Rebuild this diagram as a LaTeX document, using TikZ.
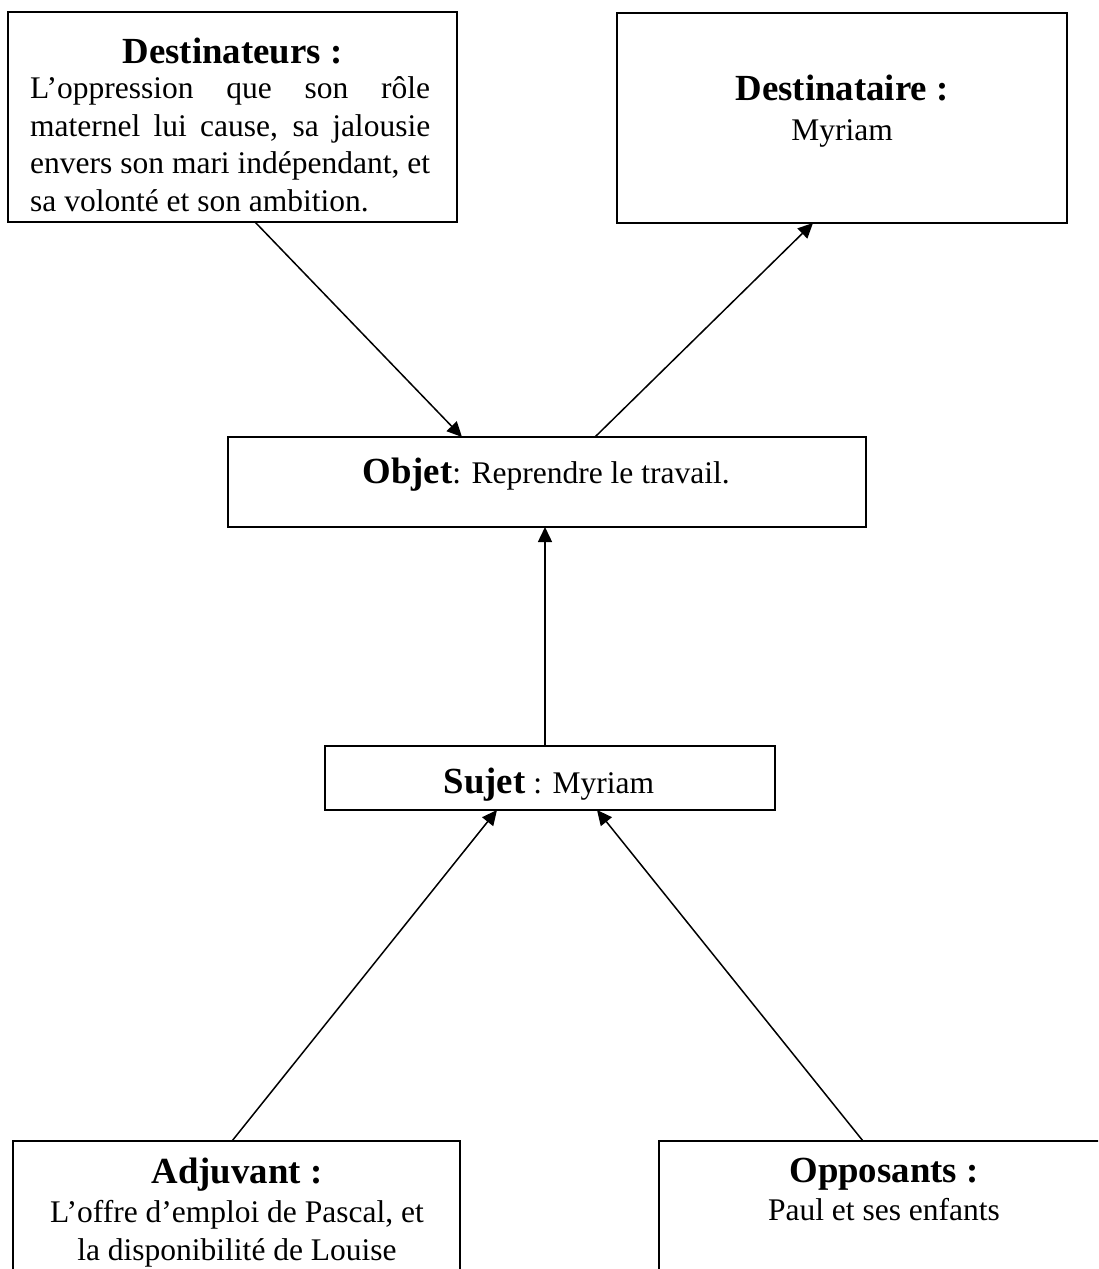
\documentclass[tikz,border=0pt]{standalone}
\usepackage{fontspec}
\setmainfont{Liberation Serif}
\usetikzlibrary{arrows.meta}
\newcommand{\hdfont}{\fontsize{36.8}{42}\selectfont\bfseries}
\newcommand{\bdfont}{\fontsize{31.5}{37.7}\selectfont}
\begin{document}
\begin{tikzpicture}[x=1pt,y=-1pt,
  box/.style={draw,line width=2pt,inner sep=0pt,outer sep=0pt},
  hd/.style={anchor=base,inner sep=0pt,font=\hdfont},
  bd/.style={anchor=base,inner sep=0pt,font=\bdfont},
  bdl/.style={anchor=base west,inner sep=0pt,font=\bdfont},
  arr/.style={line width=1.5pt,-{Triangle[length=15pt,width=14pt]}}]
\useasboundingbox (0,0) rectangle (1098,1269);
\fill[white] (0,0) rectangle (1098,1269);
\clip (0,0) rectangle (1098,1269);
% boxes
\node[box,minimum width=449,minimum height=210] (dst) at (232.5,117) {};
\node[box,minimum width=450,minimum height=210] (dtr) at (842,118) {};
\node[box,minimum width=638,minimum height=90] (obj) at (547,482) {};
\node[box,minimum width=450,minimum height=64] (suj) at (550,778) {};
\node[box,minimum width=447,minimum height=160] (adj) at (236.5,1221) {};
\node[box,minimum width=450,minimum height=160] (opp) at (884,1221) {};
% texts
\node[hd] (dsth) at (232.5,63) {Destinateurs :};
\node[bdl] (dstb1) at (30,98) {\makebox[400pt][s]{L’oppression que son rôle}};
\node[bdl] (dstb2) at (30,136) {\makebox[400pt][s]{maternel lui cause, sa jalousie}};
\node[bdl] (dstb3) at (30,173.5) {\makebox[400pt][s]{envers son mari indépendant, et}};
\node[bdl] (dstb4) at (30,211) {sa volonté et son ambition.};
\node[hd] (dtrh) at (842,100) {Destinataire :};
\node[bd] (dtrb) at (842,140) {Myriam};
\node[bd] (objt) at (546,483) {{\hdfont Objet}: Reprendre le travail.};
\node[bd] (sujt) at (549,793) {{\hdfont Sujet} : Myriam};
\node[hd] (adjh) at (237,1183) {Adjuvant :};
\node[bd] (adjb1) at (237,1222) {L’offre d’emploi de Pascal, et};
\node[bd] (adjb2) at (237,1260) {la disponibilité de Louise};
\node[hd] (opph) at (884,1182) {Opposants :};
\node[bd] (oppb) at (884,1220) {Paul et ses enfants};
% arrows
\draw[arr] ([xshift=247pt]dst.south west) -- ([xshift=234pt]obj.north west);
\draw[arr] ([xshift=367pt]obj.north west) -- ([xshift=196pt]dtr.south west);
\draw[arr] ([xshift=-5pt]suj.north) -- ([xshift=-2pt]obj.south);
\draw[arr] ([xshift=219pt]adj.north west) -- ([xshift=172pt]suj.south west);
\draw[arr] ([xshift=204pt]opp.north west) -- ([xshift=272pt]suj.south west);
\end{tikzpicture}
\end{document}
